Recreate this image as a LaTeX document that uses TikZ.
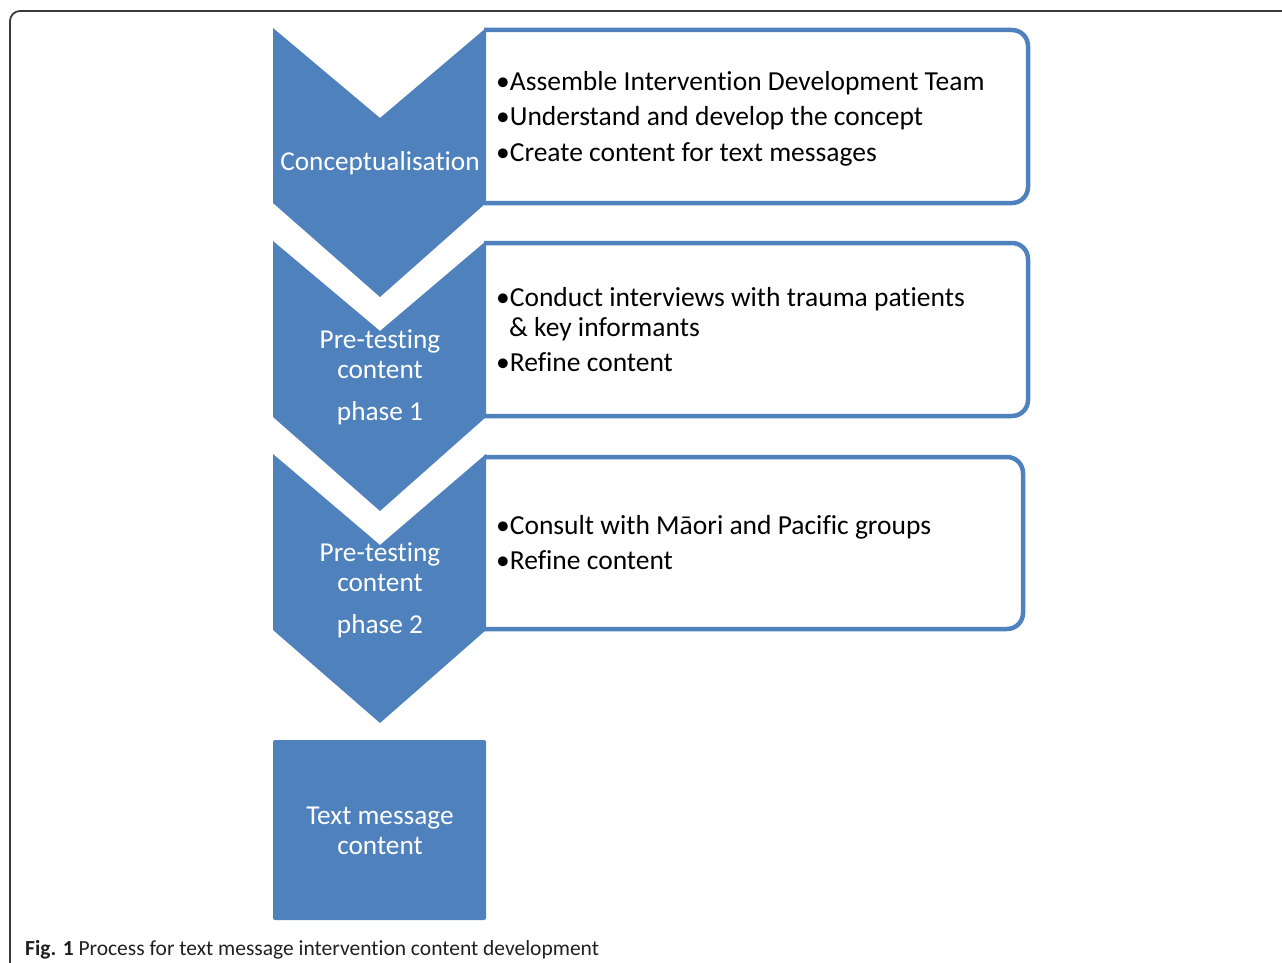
\documentclass[tikz,border=0pt]{standalone}
\usepackage{fontspec}
\setmainfont{Carlito}[RawFeature=-liga]
\definecolor{officeblue}{HTML}{4F81BD}
\definecolor{framegray}{HTML}{3A3A3A}
\definecolor{captiongray}{HTML}{231F20}
\tikzset{
  chevron/.style={fill=officeblue, draw=none},
  stagebox/.style={draw=officeblue, line width=4.5pt, fill=white, rounded corners=16pt},
  stagetext/.style={text=white, font=\fontsize{27.3}{33}\selectfont, anchor=base, inner sep=0pt},
  itemtext/.style={text=black, font=\fontsize{27.5}{33}\selectfont, anchor=base west, inner sep=0pt},
}
\begin{document}
\begin{tikzpicture}[x=1pt, y=-1pt]
\useasboundingbox (0,0) rectangle (1282,963);

% outer figure frame
\draw[framegray, line width=1.8pt, rounded corners=10pt] (10,1000) -- (10,11) -- (1320,11);

% activity boxes, open on the left where the chevrons cover them
\fill[white] (484,30) rectangle (1028,203);
\draw[stagebox] (484,30) -- (1028,30) -- (1028,203) -- (484,203);
\fill[white] (484,243) rectangle (1028,416);
\draw[stagebox] (484,243) -- (1028,243) -- (1028,416) -- (484,416);
\fill[white] (484,457) rectangle (1023,629);
\draw[stagebox] (484,457) -- (1023,457) -- (1023,629) -- (484,629);

% chevrons
\fill[chevron] (273,28) -- (380,118) -- (486,28) -- (486,203) -- (380,297) -- (273,203) -- cycle;
\fill[chevron] (273,241) -- (380,331) -- (486,241) -- (486,417) -- (380,511) -- (273,417) -- cycle;
\fill[chevron] (273,454) -- (380,545) -- (486,454) -- (486,630) -- (380,723) -- (273,630) -- cycle;
\fill[chevron, rounded corners=2pt] (273,740) rectangle (486,920);

% stage labels
\node[stagetext] (concept) at (380,170) {Conceptualisation};
\node[stagetext] (pa1) at (380,348) {Pre-testing};
\node[stagetext] (pb1) at (380,378) {content};
\node[stagetext] (pc1) at (380,420) {phase 1};
\node[stagetext] (pa2) at (380,561) {Pre-testing};
\node[stagetext] (pb2) at (380,591) {content};
\node[stagetext] (pc2) at (380,633) {phase 2};
\node[stagetext] (outa) at (380,824) {Text message};
\node[stagetext] (outb) at (380,854) {content};

% activity items
\node[itemtext] (a1) at (496,91) {•Assemble Intervention Development Team};
\node[itemtext] (a2) at (496,126) {•Understand and develop the concept};
\node[itemtext] (a3) at (496,161) {•Create content for text messages};
\node[itemtext] (b1) at (496,306) {•Conduct interviews with trauma patients};
\node[itemtext] (b2) at (509,336) {\& key informants};
\node[itemtext] (b3) at (496,371) {•Refine content};
\node[itemtext] (c1) at (496,534) {•Consult with Māori and Pacific groups};
\node[itemtext] (c2) at (496,569) {•Refine content};

% caption
\node[anchor=base west, inner sep=0pt, text=captiongray, font=\fontsize{21.5}{25}\selectfont] (cap) at (25,955)
  {\textbf{Fig. 1} Process for text message intervention content development};
\end{tikzpicture}
\end{document}
